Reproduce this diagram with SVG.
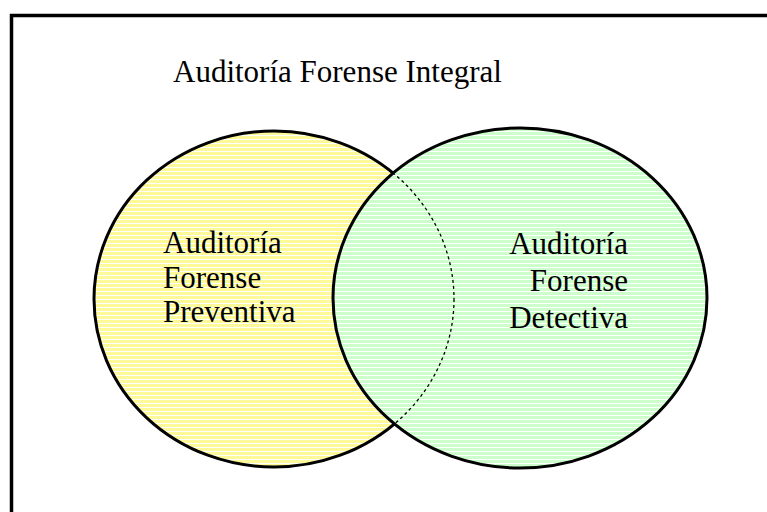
<svg xmlns="http://www.w3.org/2000/svg" width="767" height="512" viewBox="0 0 767 512">
  <style>
    .lbl { font-family: "Liberation Serif", "Times New Roman", serif; font-size: 31px; fill: #000; }
    .outline { stroke: #000; stroke-width: 3; }
  </style>
  <defs>
    <pattern id="yellowStripes" x="0" y="0" width="8" height="4" patternUnits="userSpaceOnUse">
      <rect x="0" y="0" width="8" height="4" fill="#FFFFFF"/>
      <rect x="0" y="0" width="8" height="3" fill="#FFFA99"/>
    </pattern>
    <pattern id="greenStripes" x="0" y="0" width="8" height="4" patternUnits="userSpaceOnUse">
      <rect x="0" y="0" width="8" height="4" fill="#FFFFFF"/>
      <rect x="0" y="0" width="8" height="3" fill="#CCFFCC"/>
    </pattern>
    <clipPath id="greenClip">
      <ellipse cx="520" cy="298" rx="187" ry="170"/>
    </clipPath>
  </defs>

  <rect width="767" height="512" fill="#FFFFFF"/>

  <g id="frame">
    <rect x="11.5" y="15.5" width="800" height="600" fill="none" stroke="#000" stroke-width="3.5"/>
  </g>

  <g id="title">
    <text class="lbl" x="173" y="82">Auditoría Forense Integral</text>
  </g>

  <g id="preventiva">
    <ellipse class="outline" cx="274" cy="299" rx="180" ry="168" fill="url(#yellowStripes)"/>
    <text class="lbl" x="163" y="253">Auditoría</text>
    <text class="lbl" x="163" y="288">Forense</text>
    <text class="lbl" x="163" y="322">Preventiva</text>
  </g>

  <g id="detectiva">
    <ellipse class="outline" cx="520" cy="298" rx="187" ry="170" fill="url(#greenStripes)"/>
    <text class="lbl" x="628" y="254" text-anchor="end">Auditoría</text>
    <text class="lbl" x="628" y="291" text-anchor="end">Forense</text>
    <text class="lbl" x="628" y="328" text-anchor="end">Detectiva</text>
  </g>

  <g id="connectors">
    <ellipse cx="274" cy="299" rx="180" ry="168" fill="none" stroke="#000" stroke-width="1.3" stroke-dasharray="3 3" clip-path="url(#greenClip)"/>
  </g>
</svg>
